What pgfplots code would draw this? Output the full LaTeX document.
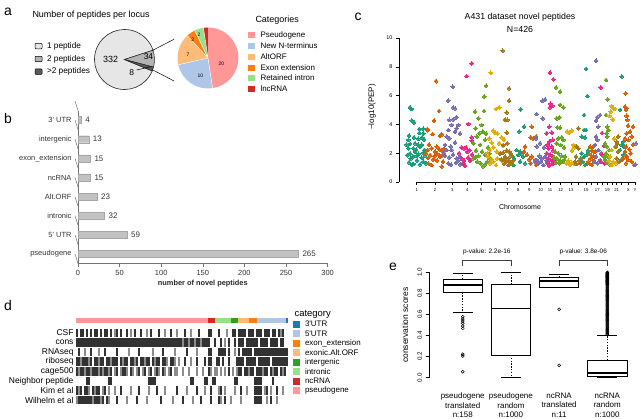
\documentclass[border=0pt]{standalone}
\usepackage{pgfplots}
\usepackage{pgfplotstable}
\pgfplotsset{compat=1.18}
\usepgfplotslibrary{statistics}
\usepackage{fontspec}
\setmainfont{Liberation Sans}

\newcommand\fs[1]{\fontsize{#1}{#1}\selectfont}
\newcommand\fsb[2]{\fontsize{#1}{#2}\selectfont}

% category colours
\definecolor{pseudo}{HTML}{FF9896}
\definecolor{nterm}{HTML}{AEC7E8}
\definecolor{altorf}{HTML}{FFBB78}
\definecolor{exonext}{HTML}{FF7F0E}
\definecolor{intronic}{HTML}{98DF8A}
\definecolor{intergenic}{HTML}{2CA02C}
\definecolor{ncrna}{HTML}{D62728}
\definecolor{utrthree}{HTML}{1F77B4}
% peptides-per-locus pie
\definecolor{onepep}{HTML}{E6E6E6}
\definecolor{twopep}{HTML}{B3B3B3}
\definecolor{morepep}{HTML}{5A5A5A}
\definecolor{barfill}{HTML}{C2C2C2}
% chromosome palette
\definecolor{chA}{HTML}{1B9E77}
\definecolor{chB}{HTML}{D95F02}
\definecolor{chC}{HTML}{7570B3}
\definecolor{chD}{HTML}{E7298A}
\definecolor{chE}{HTML}{66A61E}
\definecolor{chF}{HTML}{E6AB02}
\definecolor{chG}{HTML}{A6761D}

\pgfplotsset{
  every axis/.append style={font=\fs{7}},
  /pgf/number format/assume math mode=true,
  heatrow/.style={scatter, only marks, mark=cell, point meta=explicit,
    scatter/use mapped color={draw=none, fill=mapped color}},
  chrom/.style={color=#1, only marks, mark=*, mark size=1.95bp, mark options={fill=#1, draw=#1, line width=0pt}},
}

\pgfdeclareplotmark{cell}{\pgfpathrectangle{\pgfqpoint{-1.05bp}{-4.3bp}}{\pgfqpoint{2.1bp}{8.6bp}}\pgfusepathqfill}

% evidence matrix: one line per evidence type, one value per group of peptides
% (0 = none, 1 = weak, 2 = medium, 3 = strong)
\pgfplotstableread[header=false]{
csf 3 0 3 3 0 3 0 3 0 3  3 0 3 0 3 3 0 3 0 2  3 0 3 0 0 3 0 2 0 3  0 0 3 0 0 2 0 3 0 0  0 3 0 0 2 0 0 3 0 0  2 0 0 0 3 0 0 2 0 0  0 3 0 0 0 0  3 3 0 0  0 3 0 0 0 2 0 0  3 3 0  3 3 3 3 0 3  3 3 0 3  3 3 0 3 3 3 0 3 3 0 3 2 3 0  0
cons 3 3 3 3 3 3 3 3 3 3  3 3 3 3 3 3 3 3 3 3  3 3 3 3 3 3 3 3 3 3  3 3 3 3 3 3 3 3 3 3  3 3 3 3 3 3 3 3 3 3  3 3 3 2 3 3 2 3 3 2  3 3 2 3 3 3  3 0 0 3  0 0 3 0 2 0 3 0  0 3 0  3 3 3 0 3 3  3 3 3 3  0 3 3 3 3 0 3 3 3 3 0 3 3 0  0
rnaseq 0 3 0 0 2 0 0 3 0 0  0 2 0 0 3 0 0 0 0 0  3 0 0 0 0 0 2 0 0 0  0 3 0 0 0 0 0 0 2 0  0 0 0 3 0 0 0 0 0 2  0 0 0 0 0 3 0 0 0 0  2 0 0 0 0 0  3 3 0 0  0 3 3 3 3 0 3 0  0 2 0  3 0 3 3 3 3  3 0 3 3  3 3 3 3 3 3 3 3 3 3 3 3 3 3  3
riboseq 3 3 2 3 3 3 2 3 0 3  3 2 3 3 0 3 3 2 3 3  3 0 3 2 3 3 0 3 3 2  3 0 3 3 2 3 3 0 3 2  3 3 0 3 3 2 0 3 3 2  0 2 0 0 3 0 0 2 0 0  3 0 0 0 3 0  3 3 0 0  3 3 0 3 0 0 3 0  0 0 3  3 3 3 0 3 3  3 3 3 0  3 3 3 3 3 3 0 3 3 3 3 3 3 3  3
cage 3 2 3 3 2 3 3 2 3 3  3 2 3 2 3 3 2 3 0 2  3 0 2 3 3 2 0 3 2 0  2 3 0 2 3 0 2 3 0 2  3 2 0 3 2 0 2 3 0 2  2 0 0 2 0 0 2 0 0 0  2 0 0 2 0 0  3 2 0 2  2 0 2 0 2 0 3 0  2 0 2  3 3 0 3 3 2  3 3 0 3  3 3 2 3 3 0 3 2 3 3 0 3 2 3  0
neighbor 0 0 0 0 0 3 3 0 0 0  0 0 0 0 0 0 3 3 0 0  0 0 0 0 0 0 0 0 0 0  0 0 0 0 0 0 3 3 3 3  0 0 0 0 0 0 0 0 0 0  0 0 0 0 0 0 0 3 3 0  0 0 0 0 3 3  0 0 3 3  0 0 0 0 0 0 0 0  0 3 3  0 0 0 0 0 0  0 0 3 3  3 3 0 0 0 0 0 3 0 0 0 0 0 0  0
kim 3 2 3 0 3 3 2 0 3 2  3 3 0 2 3 0 2 0 0 2  0 0 3 0 0 0 0 2 0 0  0 3 0 0 0 0 2 0 0 0  3 0 0 0 2 0 0 0 0 0  3 0 0 0 0 2 0 0 0 0  3 0 0 0 2 0  0 3 0 0  0 2 3 0 2 0 0 0  0 2 0  0 3 0 0 2 0  0 0 3 3  3 3 0 2 3 0 2 0 0 3 0 0 2 0  0
wilhelm 2 3 3 3 3 3 3 3 2 3  3 3 2 3 0 3 2 0 0 0  3 0 0 0 0 2 0 0 0 0  3 0 0 0 0 2 0 0 0 0  0 0 3 0 0 0 0 0 2 0  0 0 0 3 0 0 0 0 2 0  0 0 3 0 0 0  0 3 0 0  0 3 2 0 3 0 0 2  0 0 0  0 2 0 0 0 0  0 0 3 3  3 3 0 0 2 0 3 0 0 2 0 0 0 0  0
}\heatraw
\pgfplotstabletranspose[colnames from=0]\heat\heatraw

\begin{document}
\begin{tikzpicture}
\useasboundingbox (0,0) rectangle (640bp,419bp);

% pie angles from the counts (clockwise)
\pgfmathsetmacro\pA{18}
\pgfmathsetmacro\pB{\pA-34/374*360}
\pgfmathsetmacro\pC{\pB-8/374*360}
\pgfmathsetmacro\pD{\pA-360}
\pgfmathsetmacro\qA{90}
\pgfmathsetmacro\qB{\qA-20/42*360}
\pgfmathsetmacro\qC{\qB-10/42*360}
\pgfmathsetmacro\qD{\qC-7/42*360}
\pgfmathsetmacro\qE{\qD-2/42*360}
\pgfmathsetmacro\qF{\qE-2/42*360}
\pgfmathsetmacro\qG{\qF-1/42*360}

% ---------------- page-level canvas (panel a, letters, legends) ----------------
\begin{axis}[at={(0bp,0bp)}, anchor=south west, scale only axis,
  width=640bp, height=419bp, xmin=0, xmax=640, ymin=0, ymax=419,
  y dir=reverse, hide axis, clip=false]
% panel letters
\node[font=\fs{14}] at (axis cs:8,12) {a};
\node[font=\fs{14}] at (axis cs:8,119) {b};
\node[font=\fs{14}] at (axis cs:358,17) {c};
\node[font=\fs{14}] at (axis cs:8,306) {d};
\node[font=\fs{14}] at (axis cs:393,267) {e};

% panel a
\node[anchor=west, font=\fs{9}] at (axis cs:29,15) {Number of peptides per locus};
\filldraw[fill=onepep, draw=black!85, line width=0.6bp] (axis cs:124.5,59.5) -- ++(\pC:30bp)
  arc[start angle=\pC, end angle=\pD, radius=30bp] -- cycle;
\filldraw[fill=twopep, draw=black!85, line width=0.5bp] (axis cs:124.5,59.5) -- ++(\pA:30bp)
  arc[start angle=\pA, end angle=\pB, radius=30bp] -- cycle;
\filldraw[fill=morepep, draw=black!85, line width=0.5bp] (axis cs:124.5,59.5) -- ++(\pB:30bp)
  arc[start angle=\pB, end angle=\pC, radius=30bp] -- cycle;
\node[font=\fs{9}] at (axis cs:110.7,59.5) {332};
\node[font=\fs{8.5}] at (axis cs:148.5,57) {34};
\node[font=\fs{8.5}] at (axis cs:131.7,72.7) {8};
\draw[line width=0.5bp] (axis cs:136.7,70) -- (axis cs:151.7,66.5);
\draw[line width=0.5bp] (axis cs:152.3,50.5) -- (axis cs:174,39.3);
\draw[line width=0.5bp] (axis cs:152,69.5) -- (axis cs:174,81);
% legend of the first pie
\filldraw[fill=onepep, draw=black, line width=0.5bp, rounded corners=0.8bp] (axis cs:35,43.5) rectangle (axis cs:42,48.9);
\filldraw[fill=twopep, draw=black, line width=0.5bp, rounded corners=0.8bp] (axis cs:35,56.3) rectangle (axis cs:42,61.7);
\filldraw[fill=morepep, draw=black, line width=0.5bp, rounded corners=0.8bp] (axis cs:35,69) rectangle (axis cs:42,74.4);
\node[anchor=west, font=\fs{8.3}] at (axis cs:43.5,46.2) {1 peptide};
\node[anchor=west, font=\fs{8.3}] at (axis cs:43.5,59) {2 peptides};
\node[anchor=west, font=\fs{8.3}] at (axis cs:43.5,71.7) {>2 peptides};
% second pie: categories of the 2-peptide loci
\fill[pseudo] (axis cs:208,58) -- ++(\qA:30.5bp) arc[start angle=\qA, end angle=\qB, radius=30.5bp] -- cycle;
\fill[nterm] (axis cs:208,58) -- ++(\qB:30.5bp) arc[start angle=\qB, end angle=\qC, radius=30.5bp] -- cycle;
\fill[altorf] (axis cs:208,58) -- ++(\qC:30.5bp) arc[start angle=\qC, end angle=\qD, radius=30.5bp] -- cycle;
\fill[exonext] (axis cs:208,58) -- ++(\qD:30.5bp) arc[start angle=\qD, end angle=\qE, radius=30.5bp] -- cycle;
\fill[intronic] (axis cs:208,58) -- ++(\qE:30.5bp) arc[start angle=\qE, end angle=\qF, radius=30.5bp] -- cycle;
\fill[ncrna] (axis cs:208,58) -- ++(\qF:30.5bp) arc[start angle=\qF, end angle=\qG, radius=30.5bp] -- cycle;
\draw[white, line width=0.4bp] (axis cs:208,58) -- ++(\qB:30.5bp) (axis cs:208,58) -- ++(\qC:30.5bp)
  (axis cs:208,58) -- ++(\qD:30.5bp) (axis cs:208,58) -- ++(\qE:30.5bp) (axis cs:208,58) -- ++(\qF:30.5bp);
\node[font=\fs{5}] at (axis cs:221.5,64) {20};
\node[font=\fs{5}] at (axis cs:200.5,76) {10};
\node[font=\fs{5}] at (axis cs:188,54.5) {7};
\node[font=\fs{5}] at (axis cs:192.7,39.5) {2};
\node[font=\fs{5}] at (axis cs:199,35) {2};
\node[anchor=west, font=\fs{9}] at (axis cs:252,20) {Categories};
\fill[pseudo] (axis cs:248,32) rectangle (axis cs:255,38);
\fill[nterm] (axis cs:248,42.7) rectangle (axis cs:255,48.7);
\fill[altorf] (axis cs:248,53.7) rectangle (axis cs:255,59.7);
\fill[exonext] (axis cs:248,64.7) rectangle (axis cs:255,70.7);
\fill[intronic] (axis cs:248,74.7) rectangle (axis cs:255,80.7);
\fill[ncrna] (axis cs:248,86) rectangle (axis cs:255,92);
\node[anchor=west, font=\fs{8}] at (axis cs:257,35) {Pseudogene};
\node[anchor=west, font=\fs{8}] at (axis cs:257,45.7) {New N-terminus};
\node[anchor=west, font=\fs{8}] at (axis cs:257,56.7) {AltORF};
\node[anchor=west, font=\fs{8}] at (axis cs:257,67.7) {Exon extension};
\node[anchor=west, font=\fs{8}] at (axis cs:257,77.7) {Retained intron};
\node[anchor=west, font=\fs{8}] at (axis cs:257,89) {lncRNA};

% panel c texts
\node[font=\fs{8.8}] at (axis cs:520,17) {A431 dataset novel peptides};
\node[font=\fs{8.8}] at (axis cs:520,29) {N=426};
\node[rotate=90, font=\fs{8}] at (axis cs:372,107) {−log10(PEP)};
\node[font=\fs{7}] at (axis cs:520,207) {Chromosome};

% panel d legend
\node[anchor=west, font=\fs{9.5}] at (axis cs:291,314) {category};
\fill[utrthree] (axis cs:293,320.5) rectangle (axis cs:300,327.5);
\fill[nterm] (axis cs:293,330) rectangle (axis cs:300,337);
\fill[exonext] (axis cs:293,339.5) rectangle (axis cs:300,346.5);
\fill[altorf] (axis cs:293,349) rectangle (axis cs:300,356);
\fill[intergenic] (axis cs:293,358.5) rectangle (axis cs:300,365.5);
\fill[intronic] (axis cs:293,368) rectangle (axis cs:300,375);
\fill[ncrna] (axis cs:293,377.5) rectangle (axis cs:300,384.5);
\fill[pseudo] (axis cs:293,387) rectangle (axis cs:300,394);
\node[anchor=west, font=\fs{8}] at (axis cs:301.5,324) {3\textquotesingle UTR};
\node[anchor=west, font=\fs{8}] at (axis cs:301.5,333.5) {5\textquotesingle UTR};
\node[anchor=west, font=\fs{8}] at (axis cs:301.5,343) {exon\_extension};
\node[anchor=west, font=\fs{8}] at (axis cs:301.5,352.5) {exonic.Alt.ORF};
\node[anchor=west, font=\fs{8}] at (axis cs:301.5,362) {intergenic};
\node[anchor=west, font=\fs{8}] at (axis cs:301.5,371.5) {intronic};
\node[anchor=west, font=\fs{8}] at (axis cs:301.5,381) {ncRNA};
\node[anchor=west, font=\fs{8}] at (axis cs:301.5,390.5) {pseudogene};

% panel e texts
\node[rotate=90, font=\fs{8.5}] at (axis cs:405,325) {conservation scores};
\end{axis}

% ---------------- panel b: peptides per category ----------------
\begin{axis}[at={(78bp,155.4bp)}, anchor=south west, scale only axis,
  width=249.6bp, height=153.1bp,
  xbar, bar width=7bp,
  xmin=0, xmax=300, ymin=-0.5, ymax=7.5, enlargelimits=false, clip=false,
  axis lines=left, axis line style={-, draw=black!55, line width=0.5bp},
  tick align=outside, major tick length=3bp,
  xtick={0,50,...,300}, xtick style={draw=black!55, line width=0.5bp},
  ytick={0,...,7}, ytick style={draw=none},
  yticklabels={pseudogene,5\textquotesingle{} UTR,intronic,Alt.ORF,ncRNA,exon\_extension,intergenic,3\textquotesingle{} UTR},
  ticklabel style={font=\fs{7.5}, text=black!80},
  nodes near coords, nodes near coords align={horizontal},
  every node near coord/.append style={font=\fs{8}, text=black!80, xshift=0.5bp},
  xlabel={number of novel peptides},
  xlabel style={font=\bfseries\fs{7.4}, text=black!85, at={(axis description cs:0.5,0)}, anchor=north, yshift=-13bp},
]
\addplot[fill=barfill, draw=black!35, line width=0.4bp, point meta=x]
  coordinates {(265,0) (59,1) (32,2) (23,3) (15,4) (15,5) (13,6) (4,7)};
\draw[black!55, line width=0.5bp] \foreach \k in {-0.5,0.5,...,7.5} {(axis cs:0,\k) -- ++(-3bp,0)};
\end{axis}

% ---------------- panel c: novel peptides along the genome ----------------
\begin{axis}[at={(399bp,237bp)}, anchor=south west, scale only axis,
  width=241bp, height=144bp,
  xmin=399, xmax=640, ymin=0, ymax=10, enlargelimits=false, clip=false,
  axis line style={draw=none},
  tick align=outside, major tick length=3bp, tick style={black, line width=0.5bp},
  xtick pos=bottom, ytick pos=left,
  ytick={0,2,4,6,8,10},
  xtick={416.7,435,452.3,467.3,481,495,507.3,518.3,529.3,540.7,550,560.7,571,578.3,586,591.7,597.3,602.7,607.3,612.3,616.7,621.7,628.3,635},
  xticklabels={1,2,3,4,5,6,7,8,9,10,11,12,13,,15,,17,,19,,21,,X,Y},
  xticklabel style={font=\fs{4.3}},
  yticklabel style={font=\fs{5.5}},
]
\draw[line width=0.6bp] (axis cs:399,0) -- (axis cs:399,10);
\draw[line width=0.6bp] (axis cs:416.7,0) -- (axis cs:635,0);
% chromosomes 1, 8, 15, 22
\addplot[chrom=chA] coordinates {
(410,5.19)(411.7,5.07)(411.7,4.26)(414,4.14)(419.3,3.68)(423.3,3.7)(409,3.2)(423.3,3.38)(419.3,3.4)(408.3,2.92)
(418.3,3.0)(424,2.95)(410,2.64)(415,2.69)(421.7,2.58)(408.3,2.34)(413.3,2.34)(420,2.46)(424.3,2.22)(410,1.99)
(415,2.1)(418.3,1.95)(423.3,2.03)(407.3,1.87)(412.7,1.76)(416.7,1.81)(421.7,1.69)(425,1.87)(409,1.37)(413.3,1.25)
(420,1.23)(423.3,1.41)(410.7,1.64)(426,1.3)(417,1.5)(406.5,2.6)(414,3.1)(412,1.2)(418,2.6)(422,3.1)(427.3,3.6)(416,2.25)
(520.7,5.05)(524,3.84)(519.3,3.5)(516.7,2.22)(520,2.11)(514,1.64)(518.3,1.88)(523.3,1.76)(513.3,1.18)(520,1.41)(525,1.3)(522,2.0)
(586,7.85)(587.3,5.97)(584,4.65)(584,3.61)(586,3.61)(581.7,3.15)(585,3.1)(581.7,1.99)(584,1.76)(586.7,1.88)(582.7,1.41)(585,1.18)(587.3,1.3)(580.7,1.64)(588,2.2)
(621.7,7.32)(620,5.0)(623.3,2.8)(621.7,2.57)(620,2.22)(623.3,1.88)(621.7,1.57)(624,2.45)};
% chromosomes 2, 9, 16, X
\addplot[chrom=chB] coordinates {
(436,7.01)(439,4.93)(434,4.26)(427.3,3.68)(432.7,3.33)(440,3.2)(441.7,3.3)(427.7,2.22)(431.7,2.34)(436.7,2.46)
(439.3,2.27)(441.7,2.18)(430,1.87)(434.3,1.8)(437.3,1.95)(428.3,1.69)(440,1.76)(442.7,1.87)(428.3,1.3)(431.7,1.18)
(441.7,1.07)(433.3,1.57)(426,2.0)(437,1.5)(444,2.3)(429,2.6)(435,2.1)(443,1.4)
(531.7,3.84)(530.7,3.1)(533.3,3.03)(536,3.15)(525,2.46)(524,2.11)(531.7,1.76)(529.3,1.57)(535,1.53)(530.7,1.3)(536,1.18)(527,1.9)
(590,2.46)(592.7,2.41)(591.7,2.18)(589.3,1.95)(593.3,1.81)(590.7,1.64)(594,1.48)(589.3,1.3)(592,1.18)(588.3,1.41)(595,2.11)
(625.7,6.16)(625,5.23)(626.7,5.12)(626,5.0)(626.7,4.59)(627.3,4.31)(628,3.9)(626.7,3.38)(630,3.5)(625,3.03)(628.3,2.92)(631.7,3.15)
(626,2.46)(629.3,2.27)(625,2.11)(630.7,1.99)(626.7,1.76)(623.3,1.64)(628.3,1.53)(631.7,1.41)(626,1.3)(634,1.18)(633,2.6)(633,3.85)};
% chromosomes 3, 10, 17, Y
\addplot[chrom=chC] coordinates {
(452.7,6.62)(448.3,5.65)(453.3,5.17)(455,5.12)(449.3,4.31)(453.3,4.35)(456.7,4.5)(451.7,3.96)(458.3,3.96)(448.3,3.61)
(455,3.5)(456.7,3.73)(446.7,3.15)(449.3,3.03)(460,3.38)(445,2.57)(450.7,2.46)(455,2.73)(446.7,2.22)(451.7,2.22)
(445,1.81)(449.3,1.71)(456.7,1.64)(458.3,1.48)(460,1.76)(448.3,1.3)(456,1.34)(460,1.23)(453,1.9)(444,2.0)(451,1.2)
(536.7,4.72)(542.7,4.42)(542.3,5.63)(545,5.74)(536,3.03)(540,2.69)(536.7,2.46)(539.3,1.81)(541.7,1.64)(536.7,1.53)
(538.3,1.3)(543.3,1.18)(540.7,1.41)(545,1.76)(535,1.4)(546.7,1.5)(544,2.4)
(596,8.43)(596,4.26)(597.3,4.49)(600,4.65)(598.3,3.84)(596,3.15)(597.3,2.92)(595,2.57)(598.3,2.22)(596,1.76)(600,1.53)(597.3,1.3)(594,1.41)(601,2.0)
(636,2.69)(635.3,1.22)};
% chromosomes 4, 11, 18
\addplot[chrom=chD] coordinates {
(466.7,7.36)(471.7,8.24)(468.3,4.03)(471.7,3.1)(471.7,2.87)(461.7,2.4)(464,2.34)(466,2.4)(469.3,2.22)(467.3,2.1)
(461.7,1.64)(464,1.48)(470,1.48)(462.7,1.3)(465,1.14)(473.3,2.69)(459,2.0)(468,1.7)(472,1.9)
(550,7.59)(553.3,7.13)(550.7,5.42)(552.3,5.28)(550,5.19)(549.3,3.84)(546.7,3.38)(551.7,3.43)(549.3,2.8)(552.7,2.92)
(547.3,2.57)(548.3,2.34)(551.7,2.46)(553.3,2.18)(546.7,1.99)(550,1.88)(552.7,1.76)(548.3,1.64)(550.7,1.53)(554,1.41)
(547.3,1.34)(551.7,1.25)(555,1.53)(549,1.15)(553,1.3)
(600.7,6.57)(604,2.5)(602.7,1.88)(600.7,1.41)(604.3,1.3)(602,3.4)};
% chromosomes 5, 12, 19
\addplot[chrom=chE] coordinates {
(486,6.67)(484.3,5.93)(475,4.89)(484,4.93)(478.3,4.42)(475.7,3.73)(481.7,3.96)(479.3,3.38)(482.7,3.5)(486,3.38)
(476.7,3.15)(485,2.92)(473.3,2.69)(480,2.57)(475,1.71)(478.3,1.81)(485,1.88)(489.3,1.99)(473.3,1.64)(477.3,1.41)
(480.7,1.3)(485,1.23)(487.3,1.41)(490,1.64)(482,2.1)(488,2.4)(476,2.2)(483,1.1)
(556,6.57)(560,6.27)(560,5.35)(563.3,5.19)(556.7,4.42)(559.3,4.49)(557.3,3.8)(560,3.77)(558.3,3.03)(561.7,3.1)
(563.3,2.92)(556.7,2.69)(560.7,2.57)(564,2.41)(555,2.11)(558.3,1.99)(561.7,1.81)(556.7,1.64)(560,1.48)(564,1.53)
(556,1.34)(559.3,1.3)(562.7,1.41)(565,1.76)(554,1.7)
(606,7.08)(607.7,5.74)(606,4.65)(607.3,3.84)(608.3,3.61)(606.7,3.38)(607.3,3.15)(605,2.69)(606.7,2.46)(609.3,2.22)
(606,1.99)(608.3,1.76)(605,1.53)(607.3,1.34)(610,1.18)(604,1.76)};
% chromosomes 6, 13, 20
\addplot[chrom=chF] coordinates {
(490.7,7.59)(496,5.07)(499.3,5.19)(493.3,3.57)(495,3.43)(497.3,3.38)(501.7,3.1)(504,2.92)(489.3,3.03)(491.7,2.73)
(490,2.22)(493.3,2.41)(496.7,2.11)(500,1.99)(488.3,1.76)(491.7,1.57)(497.3,1.64)(501.7,1.48)(490,1.3)(496,1.18)
(493.3,1.41)(503,2.5)(499,2.7)(487,2.0)
(567.3,3.5)(569.3,3.43)(571.7,3.57)(574.3,2.41)(573.3,2.57)(568.3,1.48)(571.7,1.34)(574,1.25)(566.7,1.3)(570,1.2)(572,2.2)
(610.7,4.89)(613.3,5.12)(611.7,5.28)(615,5.07)(612.7,4.35)(609.5,4.6)(614,3.0)(615,2.46)(611.7,2.22)(610,1.76)
(613.3,1.41)(616,1.3)(611.7,1.18)(609,1.5)};
% chromosomes 7, 14, 21
\addplot[chrom=chG] coordinates {
(502.7,9.12)(509,6.51)(509,5.63)(506.7,4.82)(505,4.31)(507.3,4.31)(506.7,3.43)(503.3,2.57)(507.3,2.69)(500,1.95)
(503.3,2.04)(506.7,2.18)(509.3,2.11)(505,1.76)(508.3,1.64)(511.7,1.81)(502.7,1.53)(506,1.41)(510,1.34)(513.3,1.48)
(504,1.25)(508.3,1.18)(501.5,1.6)(511,1.95)(512,1.3)(505.5,1.5)(509,1.45)
(578.3,3.73)(576.7,2.46)(578.3,2.34)(576,1.76)(579.3,1.48)(580.7,1.3)(576.7,1.25)(575,1.41)(581,1.6)
(618.3,3.15)(616.7,2.8)(616,2.46)(618.3,2.11)(616.7,1.64)(619.3,1.41)(617,2.65)};
\end{axis}

% ---------------- panel d: evidence per peptide ----------------
\begin{axis}[at={(76bp,14.2bp)}, anchor=south west, scale only axis,
  width=212bp, height=87.1bp,
  xmin=0, xmax=426, ymin=0.5, ymax=9.6, enlargelimits=false, clip=false,
  axis line style={draw=none}, xtick=\empty,
  ytick={1,...,8}, ytick style={draw=none},
  yticklabels={Wilhelm et al,Kim et al,Neighbor peptide,cage500,riboseq,RNAseq,cons,CSF},
  yticklabel style={font=\fs{8.5}, xshift=1bp},
  colormap={heat}{rgb255(0cm)=(255,255,255); rgb255(1cm)=(205,205,205); rgb255(2cm)=(140,140,140); rgb255(3cm)=(50,50,50)},
  point meta min=0, point meta max=3,
]
% category strip: cumulative peptide counts
\addplot[fill=pseudo, draw=none] coordinates {(0,9.05)(265,9.05)(265,9.57)(0,9.57)} -- cycle;
\addplot[fill=ncrna, draw=none] coordinates {(265,9.05)(280,9.05)(280,9.57)(265,9.57)} -- cycle;
\addplot[fill=intronic, draw=none] coordinates {(280,9.05)(312,9.05)(312,9.57)(280,9.57)} -- cycle;
\addplot[fill=intergenic, draw=none] coordinates {(312,9.05)(325,9.05)(325,9.57)(312,9.57)} -- cycle;
\addplot[fill=altorf, draw=none] coordinates {(325,9.05)(348,9.05)(348,9.57)(325,9.57)} -- cycle;
\addplot[fill=exonext, draw=none] coordinates {(348,9.05)(363,9.05)(363,9.57)(348,9.57)} -- cycle;
\addplot[fill=nterm, draw=none] coordinates {(363,9.05)(422,9.05)(422,9.57)(363,9.57)} -- cycle;
\addplot[fill=utrthree, draw=none] coordinates {(422,9.05)(426,9.05)(426,9.57)(422,9.57)} -- cycle;
% evidence rows
\addplot[heatrow] table[x expr=\coordindex*4.0189+2.01, y expr=8, meta=csf] {\heat};
\addplot[heatrow] table[x expr=\coordindex*4.0189+2.01, y expr=7, meta=cons] {\heat};
\addplot[heatrow] table[x expr=\coordindex*4.0189+2.01, y expr=6, meta=rnaseq] {\heat};
\addplot[heatrow] table[x expr=\coordindex*4.0189+2.01, y expr=5, meta=riboseq] {\heat};
\addplot[heatrow] table[x expr=\coordindex*4.0189+2.01, y expr=4, meta=cage] {\heat};
\addplot[heatrow] table[x expr=\coordindex*4.0189+2.01, y expr=3, meta=neighbor] {\heat};
\addplot[heatrow] table[x expr=\coordindex*4.0189+2.01, y expr=2, meta=kim] {\heat};
\addplot[heatrow] table[x expr=\coordindex*4.0189+2.01, y expr=1, meta=wilhelm] {\heat};
\end{axis}

% ---------------- panel e: conservation scores ----------------
\begin{axis}[at={(429bp,41.3bp)}, anchor=south west, scale only axis,
  width=202.4bp, height=105.4bp,
  xmin=0.3, xmax=4.5, ymin=0, ymax=1, enlargelimits=false, clip=false,
  axis lines*=left, axis line style={-, line width=0.6bp},
  x axis line style={draw=none},
  xtick={1,2,3,4}, xtick style={draw=none},
  xticklabels={{pseudogene\\translated\\n:158},{pseudogene\\random\\n:1000},{ncRNA\\translated\\n:11},{ncRNA\\random\\n:1000}},
  xticklabel style={align=center, font=\fsb{8}{9.7}, yshift=-8bp},
  ytick={0,0.2,0.4,0.6,0.8,1},
  yticklabel style={rotate=90, anchor=south, font=\fs{6.3},
    /pgf/number format/fixed, /pgf/number format/fixed zerofill, /pgf/number format/precision=1},
  tick align=outside, major tick length=3.5bp, ytick style={line width=0.6bp, black},
  boxplot/draw direction=y,
  boxplot/box extend=0.81,
  boxplot/whisker extend=0.42,
  boxplot/every median/.style={line width=1.5bp},
  boxplot/draw/lower whisker/.code={%
    \draw[dash pattern=on 1.4bp off 1.4bp] (boxplot cs:\pgfplotsboxplotvalue{lower quartile}) -- (boxplot cs:\pgfplotsboxplotvalue{lower whisker});
    \draw (boxplot whisker cs:\pgfplotsboxplotvalue{lower whisker},0) -- (boxplot whisker cs:\pgfplotsboxplotvalue{lower whisker},1);
  },
  boxplot/draw/upper whisker/.code={%
    \draw[dash pattern=on 1.4bp off 1.4bp] (boxplot cs:\pgfplotsboxplotvalue{upper quartile}) -- (boxplot cs:\pgfplotsboxplotvalue{upper whisker});
    \draw (boxplot whisker cs:\pgfplotsboxplotvalue{upper whisker},0) -- (boxplot whisker cs:\pgfplotsboxplotvalue{upper whisker},1);
  },
  every axis plot/.append style={draw=black, line width=0.6bp, mark=o, mark size=1.5bp,
    mark options={draw=black, line width=0.5bp, solid}},
]
\addplot[boxplot prepared={draw position=1, lower whisker=0.617, lower quartile=0.807,
  median=0.88, upper quartile=0.937, upper whisker=0.99}]
  coordinates {(0,0.579)(0,0.557)(0,0.538)(0,0.516)(0,0.49)(0,0.468)(0,0.222)(0,0.206)(0,0.057)};
\addplot[boxplot prepared={draw position=2, lower whisker=0, lower quartile=0.215,
  median=0.658, upper quartile=0.886, upper whisker=1}]
  coordinates {};
\addplot[boxplot prepared={draw position=3, lower whisker=0.858, lower quartile=0.858,
  median=0.918, upper quartile=0.952, upper whisker=0.978}]
  coordinates {(0,0.649)(0,0.117)};
\addplot[boxplot prepared={draw position=4, lower whisker=0, lower quartile=0.0095,
  median=0.044, upper quartile=0.168, upper whisker=0.399}]
  coordinates {(0,0.41)(0,0.42)(0,0.43)(0,0.44)(0,0.45)(0,0.46)(0,0.47)(0,0.48)(0,0.49)(0,0.50)
  (0,0.51)(0,0.52)(0,0.53)(0,0.54)(0,0.55)(0,0.56)(0,0.57)(0,0.58)(0,0.59)(0,0.60)
  (0,0.61)(0,0.62)(0,0.63)(0,0.64)(0,0.65)(0,0.66)(0,0.67)(0,0.68)(0,0.69)(0,0.70)
  (0,0.71)(0,0.72)(0,0.73)(0,0.74)(0,0.75)(0,0.76)(0,0.77)(0,0.78)(0,0.79)(0,0.80)
  (0,0.81)(0,0.82)(0,0.83)(0,0.84)(0,0.85)(0,0.86)(0,0.87)(0,0.88)(0,0.89)(0,0.90)
  (0,0.91)(0,0.92)(0,0.93)(0,0.94)(0,0.95)(0,0.96)(0,0.97)(0,0.98)(0,0.99)(0,1.00)
  (0,0.885)(0,0.895)(0,0.905)(0,0.915)(0,0.925)(0,0.935)(0,0.945)(0,0.955)(0,0.965)(0,0.975)(0,0.985)(0,0.995)};
\draw[line width=0.5bp, black!75] (axis cs:1,1.06) -- (axis cs:1,1.117) -- (axis cs:2,1.117) -- (axis cs:2,1.06);
\draw[line width=0.5bp, black!75] (axis cs:3,1.06) -- (axis cs:3,1.117) -- (axis cs:4,1.117) -- (axis cs:4,1.06);
\node[font=\fs{6.5}] at (axis cs:1.5,1.19) {p-value: 2.2e-16};
\node[font=\fs{6.5}] at (axis cs:3.5,1.19) {p-value: 3.8e-06};
\end{axis}
\end{tikzpicture}
\end{document}
